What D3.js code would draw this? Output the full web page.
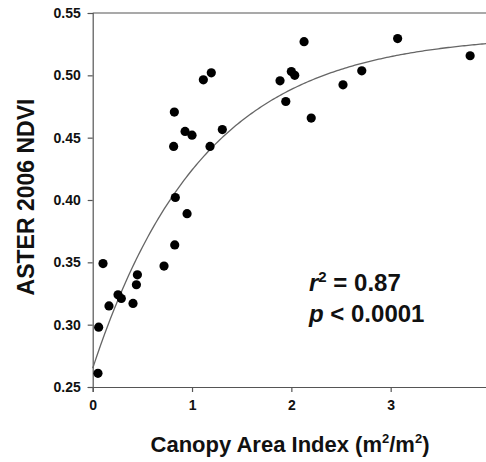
<!DOCTYPE html>
<html>
<head>
<meta charset="utf-8">
<script src="https://cdn.jsdelivr.net/npm/d3@7"></script>
<style>
  html, body { margin: 0; padding: 0; background: #fff; }
  svg { display: block; }
  text { font-family: "Liberation Sans", Arial, Helvetica, sans-serif; font-weight: bold; fill: #111; }
</style>
</head>
<body>
<div id="chart"></div>
<script>
// Canopy area index (m²/m²) per plot
const caiValues = [0.053, 0.06, 0.104, 0.164, 0.255, 0.288, 0.406, 0.44, 0.45, 0.718,
  0.826, 0.95, 0.832, 0.815, 1.181, 0.93, 1.0, 1.305, 0.822, 1.114,
  1.194, 2.128, 1.886, 2.0, 2.034, 1.944, 2.2, 2.52, 2.709, 3.07, 3.80];
// ASTER 2006 NDVI per plot
const ndviValues = [0.261, 0.298, 0.349, 0.315, 0.324, 0.321, 0.317, 0.332, 0.340, 0.347,
  0.364, 0.389, 0.402, 0.443, 0.443, 0.455, 0.452, 0.4565, 0.4705, 0.4964,
  0.502, 0.527, 0.4956, 0.503, 0.500, 0.479, 0.4657, 0.4924, 0.5036, 0.5295, 0.5157];
// Exponential rise-to-maximum fit: y = y0 + a * (1 - exp(-b * x))
const fitParams = [0.265, 0.268, 0.9];
const xTicks = [0, 1, 2, 3, 4];
const yTicks = [0.25, 0.30, 0.35, 0.40, 0.45, 0.50, 0.55];
const statLines = ["0.87", "0.0001"];

const W = 486, H = 462;
const plotLeft = 92.7, plotTop = 13, plotBottom = 387, plotRight = 490;

const svg = d3.select("#chart").append("svg")
  .attr("width", W).attr("height", H);

const x = d3.scaleLinear().domain([0, 4]).range([plotLeft, plotRight]);
const y = d3.scaleLinear().domain([0.25, 0.55]).range([plotBottom, plotTop]);

// Frame: top border line
svg.append("line")
  .attr("x1", plotLeft).attr("x2", plotRight + 10)
  .attr("y1", plotTop).attr("y2", plotTop)
  .attr("stroke", "#555").attr("stroke-width", 1.2);

// Axes
const xAxis = svg.append("g")
  .attr("transform", `translate(0,${plotBottom})`)
  .call(d3.axisBottom(x).tickValues(xTicks).tickFormat(d3.format("d"))
    .tickSizeOuter(0).tickSize(5).tickPadding(8));
const yAxis = svg.append("g")
  .attr("transform", `translate(${plotLeft},0)`)
  .call(d3.axisLeft(y).tickValues(yTicks).tickFormat(d3.format(".2f"))
    .tickSizeOuter(0).tickSize(5).tickPadding(7));

[xAxis, yAxis].forEach(g => {
  g.select(".domain").attr("stroke", "#555").attr("stroke-width", 1.2);
  g.selectAll(".tick line").attr("stroke", "#555").attr("stroke-width", 1.2);
  g.selectAll(".tick text")
    .attr("font-size", 14).attr("font-weight", "bold")
    .attr("font-family", "'Liberation Sans', Arial, sans-serif")
    .attr("fill", "#222");
});

// Fitted curve
const [y0, a, b] = fitParams;
const curveX = d3.range(0, 4.2001, 0.02);
svg.append("path")
  .datum(curveX)
  .attr("fill", "none")
  .attr("stroke", "#666")
  .attr("stroke-width", 1.3)
  .attr("d", d3.line()
    .x(d => x(d))
    .y(d => y(y0 + a * (1 - Math.exp(-b * d)))));

// Data points
svg.append("g").selectAll("circle")
  .data(caiValues.map((v, i) => [v, ndviValues[i]]))
  .join("circle")
  .attr("cx", d => x(d[0]))
  .attr("cy", d => y(d[1]))
  .attr("r", 4.6)
  .attr("fill", "#000");

// Statistics annotation
const s1 = svg.append("text").attr("x", 309).attr("y", 291).attr("font-size", 24);
s1.append("tspan").attr("font-style", "italic").text("r");
s1.append("tspan").attr("font-size", 15).attr("dy", -9).text("2");
s1.append("tspan").attr("dy", 9).text(" = " + statLines[0]);

const s2 = svg.append("text").attr("x", 309).attr("y", 322).attr("font-size", 24);
s2.append("tspan").attr("font-style", "italic").text("p");
s2.append("tspan").text(" < " + statLines[1]);

// Axis titles
const xt = svg.append("text")
  .attr("x", 290).attr("y", 452)
  .attr("text-anchor", "middle")
  .attr("font-size", 22);
xt.append("tspan").text("Canopy Area Index (m");
xt.append("tspan").attr("font-size", 13).attr("dy", -9).text("2");
xt.append("tspan").attr("dy", 9).text("/m");
xt.append("tspan").attr("font-size", 13).attr("dy", -9).text("2");
xt.append("tspan").attr("dy", 9).text(")");

svg.append("text")
  .attr("transform", "translate(34,197) rotate(-90)")
  .attr("text-anchor", "middle")
  .attr("font-size", 23)
  .text("ASTER 2006 NDVI");
</script>
</body>
</html>
